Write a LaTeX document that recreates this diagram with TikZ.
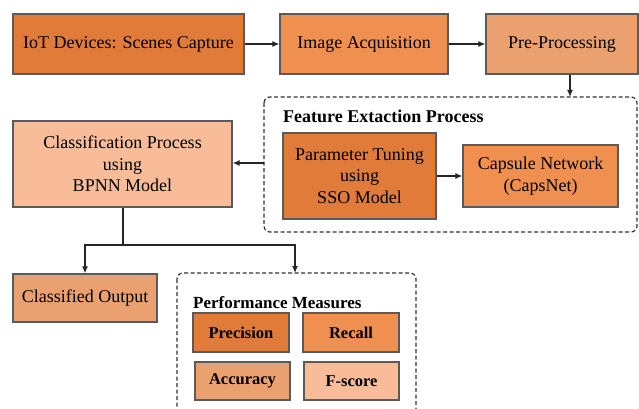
\documentclass[tikz,border=0pt]{standalone}
\usepackage{fontspec}
\setmainfont{Liberation Serif}
\usetikzlibrary{arrows.meta}
\definecolor{cDark}{HTML}{E07B39}
\definecolor{cMid}{HTML}{EF8F50}
\definecolor{cTan}{HTML}{EBA06F}
\definecolor{cLight}{HTML}{F8BD98}
\definecolor{cBorder}{HTML}{5A5A5A}
\tikzset{
  box/.style={draw=cBorder, line width=1.3pt, inner sep=0pt, align=center,
    font=\rmfamily\fontsize{18}{21.5}\selectfont, text=black},
  pbox/.style={box, font=\rmfamily\bfseries\fontsize{16.5}{20}\selectfont},
  group/.style={draw=black!80, line width=1.2pt, dashed, dash pattern=on 4pt off 2.5pt, rounded corners=6pt},
  conn/.style={draw=black!85, line width=1.2pt},
  arr/.style={conn, -{Latex[length=7pt,width=6pt]}},
}
\begin{document}
\begin{tikzpicture}[x=1pt,y=-1pt]
\useasboundingbox (0,0) rectangle (639,409);
% top row
\node[box, fill=cDark, minimum width=231pt, minimum height=60pt] (iot) at (128.5,44) {IoT Devices: Scenes Capture};
\node[box, fill=cMid, minimum width=168pt, minimum height=60pt] (acq) at (364,44) {Image Acquisition};
\node[box, fill=cTan, minimum width=152pt, minimum height=60pt] (pre) at (562,44) {Pre-Processing};
% feature extraction group
\draw[group] (264,97) rectangle (637,232);
\coordinate (fgtop) at (570,97);
\coordinate (fgleft) at (264,163);
\node[anchor=west, font=\rmfamily\bfseries\fontsize{18}{21}\selectfont, inner sep=0pt] (ftitle) at (283,116) {Feature Extaction Process};
\node[box, fill=cDark, minimum width=153pt, minimum height=86pt] (param) at (359.5,176) {Parameter Tuning\\using\\SSO Model};
\node[box, fill=cMid, minimum width=155pt, minimum height=62pt] (caps) at (540.5,176) {Capsule Network\\(CapsNet)};
% classification
\node[box, fill=cLight, minimum width=219pt, minimum height=86pt] (cls) at (122.5,164) {Classification Process\\using\\BPNN Model};
\node[box, fill=cTan, minimum width=144pt, minimum height=48pt] (out) at (85,298) {Classified Output};
% performance group
\draw[group] (177,273) rectangle (416,430);
\coordinate (pgtop) at (295,273);
\node[anchor=west, font=\rmfamily\bfseries\fontsize{17}{20}\selectfont, inner sep=0pt] (ptitle) at (193,303) {Performance Measures};
\node[pbox, fill=cDark, minimum width=96pt, minimum height=39pt] (prec) at (241,332.5) {Precision};
\node[pbox, fill=cMid, minimum width=96pt, minimum height=39pt] (rec) at (351,332.5) {Recall};
\node[pbox, fill=cTan, minimum width=95pt, minimum height=38pt] (acc) at (242.5,381) {Accuracy};
\node[pbox, fill=cLight, minimum width=95pt, minimum height=38pt] (fs) at (351.5,381) {F-score};
% connectors
\draw[arr] (iot) -- (acq);
\draw[arr] (acq) -- (pre);
\draw[arr] (pre.south -| fgtop) -- (fgtop);
\draw[arr] (param.east |- caps.west) -- (caps.west);
\draw[arr] (fgleft) -- (cls.east |- fgleft);
\coordinate (split) at (123,245);
\draw[conn] (cls.south -| split) -- (split);
\draw[arr] (split) -| (out.north);
\draw[arr] (split) -| (pgtop);
\end{tikzpicture}
\end{document}
